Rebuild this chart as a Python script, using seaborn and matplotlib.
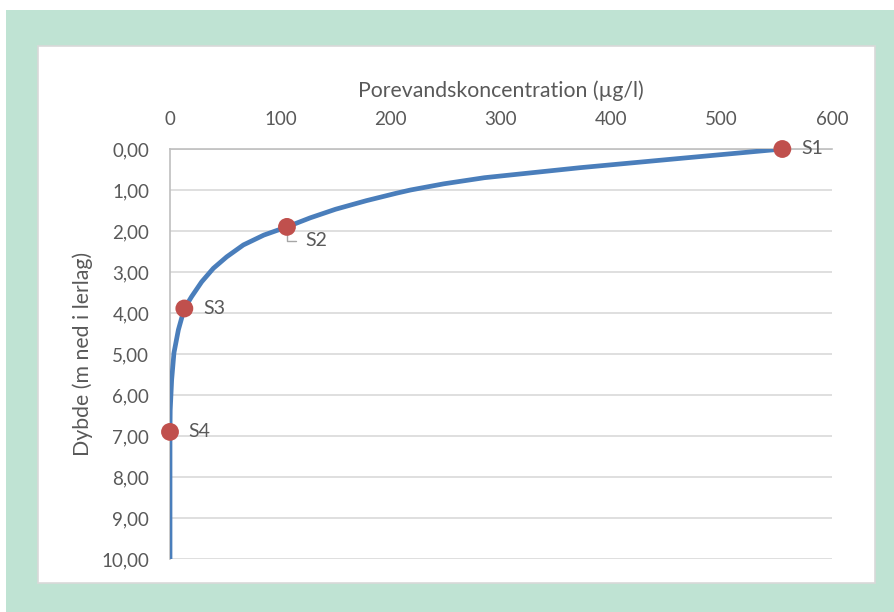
import matplotlib
matplotlib.use("Agg")
import matplotlib.pyplot as plt
from matplotlib.patches import Rectangle
import seaborn as sns

# ---- data ----
conc_curve = [555, 462, 372, 285, 248, 218, 205, 178, 150, 127, 106, 85, 66.5, 51.4,
              39.3, 28.7, 19.6, 13, 7.6, 3.6, 1.5, 0.2, 0, 0]
depth_curve = [0, 0.23, 0.455, 0.70, 0.85, 1.0, 1.08, 1.26, 1.47, 1.68, 1.90, 2.10, 2.34, 2.63,
               2.91, 3.24, 3.6, 3.89, 4.41, 4.97, 5.63, 6.37, 6.88, 10]

samples = ["S1", "S2", "S3", "S4"]
conc_samples = [555, 106, 13, 0]
depth_samples = [0, 1.90, 3.89, 6.9]

x_ticks = [0, 100, 200, 300, 400, 500, 600]
y_ticks = [0, 1, 2, 3, 4, 5, 6, 7, 8, 9, 10]
x_title = "Porevandskoncentration (µg/l)"
y_title = "Dybde (m ned i lerlag)"

sns.set_theme(style="white")
plt.rcParams["font.family"] = ["Lato", "DejaVu Sans"]
TXT = "#595959"
TICK_FS = 13.5
TITLE_FS = 15.3
LBL_FS = 14

W, H = 895, 612
fig = plt.figure(figsize=(W / 100, H / 100), dpi=100)
fig.patch.set_facecolor("white")
fig.patches.append(Rectangle((6 / W, 0), 1, 1 - 10 / H, transform=fig.transFigure,
                             facecolor="#BFE3D3", edgecolor="none", zorder=-3))
fig.patches.append(Rectangle((38 / W, 1 - 583 / H), (875 - 38) / W, (583 - 46) / H,
                             transform=fig.transFigure, facecolor="white",
                             edgecolor="#D9D9D9", linewidth=1.2, zorder=-2))

ax = fig.add_axes([170 / W, 1 - 559 / H, 662 / W, 410 / H])
ax.set_zorder(5)
ax.set_facecolor("none")

sns.lineplot(x=conc_curve, y=depth_curve, sort=False, estimator=None, ax=ax,
             color="#4A7EBB", linewidth=3.4, zorder=3)
ax.lines[-1].set_solid_joinstyle("round")
sns.scatterplot(x=conc_samples, y=depth_samples, ax=ax, color="#C0504D", s=165,
                edgecolor="none", zorder=4, clip_on=False)

for name, cx, cy in zip(samples, conc_samples, depth_samples):
    if name == "S2":
        ax.annotate(name, xy=(cx, cy), xytext=(13, -10), textcoords="offset points",
                    ha="left", va="center", fontsize=LBL_FS, color=TXT, zorder=2,
                    arrowprops=dict(arrowstyle="-", color="#A6A6A6", lw=1,
                                    connectionstyle="angle,angleA=0,angleB=90",
                                    shrinkA=4, shrinkB=0, relpos=(0, 0.5)))
    else:
        ax.annotate(name, xy=(cx, cy), xytext=(13.5, 0), textcoords="offset points",
                    ha="left", va="center", fontsize=LBL_FS, color=TXT, zorder=5)

ax.set_xlim(0, 600)
ax.set_ylim(10, 0)
ax.set_xticks(x_ticks)
ax.set_yticks(y_ticks)
ax.set_yticklabels([f"{v:.2f}".replace(".", ",") for v in y_ticks])
ax.xaxis.tick_top()
ax.xaxis.set_label_position("top")
ax.tick_params(axis="both", length=0, labelsize=TICK_FS, colors=TXT, pad=15)

ax.set_xlabel(x_title, fontsize=TITLE_FS, color=TXT)
ax.set_ylabel(y_title, fontsize=TITLE_FS, color=TXT)
ax.xaxis.set_label_coords(0.5, (559 - 97) / 410)
ax.yaxis.set_label_coords((93 - 170) / 662, 0.5)

ax.yaxis.grid(True, color="#D9D9D9", linewidth=1.2)
ax.xaxis.grid(False)
for s in ["right", "bottom"]:
    ax.spines[s].set_visible(False)
for s in ["top", "left"]:
    ax.spines[s].set_visible(True)
    ax.spines[s].set_color("#BFBFBF")
    ax.spines[s].set_linewidth(1.2)

fig.savefig("out.png", dpi=100)
